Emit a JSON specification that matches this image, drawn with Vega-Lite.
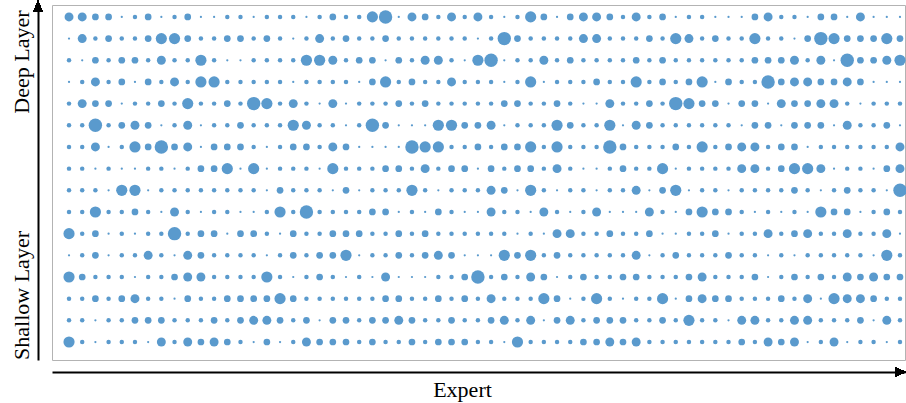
{
"$schema": "https://vega.github.io/schema/vega-lite/v6.json",
"width": 853, "height": 355,
"autosize": {"type": "none"},
"padding": {"left": 52, "top": 5, "right": 1, "bottom": 43},
"config": {"view": {"stroke": "#b3b3b3", "strokeWidth": 1}, "font": "Liberation Serif"},
"data": {"values": [
{"l":16,"e":0,"v":4},{"l":16,"e":1,"v":4},{"l":16,"e":2,"v":3},{"l":16,"e":3,"v":3},{"l":16,"e":4,"v":1},{"l":16,"e":5,"v":2},{"l":16,"e":6,"v":3},{"l":16,"e":7,"v":1},{"l":16,"e":8,"v":2},{"l":16,"e":9,"v":3},{"l":16,"e":10,"v":1},{"l":16,"e":11,"v":1},{"l":16,"e":12,"v":2},{"l":16,"e":13,"v":2},{"l":16,"e":14,"v":1},{"l":16,"e":15,"v":2},{"l":16,"e":16,"v":2},{"l":16,"e":17,"v":2},{"l":16,"e":18,"v":1},{"l":16,"e":19,"v":2},{"l":16,"e":20,"v":3},{"l":16,"e":21,"v":2},
{"l":16,"e":22,"v":2},{"l":16,"e":23,"v":5},{"l":16,"e":24,"v":6},{"l":16,"e":25,"v":1},{"l":16,"e":26,"v":4},{"l":16,"e":27,"v":3},{"l":16,"e":28,"v":2},{"l":16,"e":29,"v":4},{"l":16,"e":30,"v":2},{"l":16,"e":31,"v":4},{"l":16,"e":32,"v":2},{"l":16,"e":33,"v":1},{"l":16,"e":34,"v":2},{"l":16,"e":35,"v":5},{"l":16,"e":36,"v":3},{"l":16,"e":37,"v":1},{"l":16,"e":38,"v":3},{"l":16,"e":39,"v":4},{"l":16,"e":40,"v":4},{"l":16,"e":41,"v":3},{"l":16,"e":42,"v":2},
{"l":16,"e":43,"v":4},{"l":16,"e":44,"v":2},{"l":16,"e":45,"v":3},{"l":16,"e":46,"v":1},{"l":16,"e":47,"v":2},{"l":16,"e":48,"v":2},{"l":16,"e":49,"v":1},{"l":16,"e":50,"v":1},{"l":16,"e":51,"v":1},{"l":16,"e":52,"v":3},{"l":16,"e":53,"v":4},{"l":16,"e":54,"v":2},{"l":16,"e":55,"v":2},{"l":16,"e":56,"v":1},{"l":16,"e":57,"v":3},{"l":16,"e":58,"v":3},{"l":16,"e":59,"v":1},{"l":16,"e":60,"v":4},{"l":16,"e":61,"v":1},{"l":16,"e":62,"v":1},{"l":16,"e":63,"v":1},
{"l":15,"e":0,"v":1},{"l":15,"e":1,"v":4},{"l":15,"e":2,"v":2},{"l":15,"e":3,"v":3},{"l":15,"e":4,"v":2},{"l":15,"e":5,"v":2},{"l":15,"e":6,"v":3},{"l":15,"e":7,"v":5},{"l":15,"e":8,"v":5},{"l":15,"e":9,"v":3},{"l":15,"e":10,"v":2},{"l":15,"e":11,"v":2},{"l":15,"e":12,"v":3},{"l":15,"e":13,"v":3},{"l":15,"e":14,"v":2},{"l":15,"e":15,"v":3},{"l":15,"e":16,"v":2},{"l":15,"e":17,"v":1},{"l":15,"e":18,"v":2},{"l":15,"e":19,"v":4},{"l":15,"e":20,"v":2},{"l":15,"e":21,"v":3},
{"l":15,"e":22,"v":2},{"l":15,"e":23,"v":2},{"l":15,"e":24,"v":3},{"l":15,"e":25,"v":2},{"l":15,"e":26,"v":2},{"l":15,"e":27,"v":2},{"l":15,"e":28,"v":2},{"l":15,"e":29,"v":2},{"l":15,"e":30,"v":2},{"l":15,"e":31,"v":1},{"l":15,"e":32,"v":2},{"l":15,"e":33,"v":6},{"l":15,"e":34,"v":3},{"l":15,"e":35,"v":2},{"l":15,"e":36,"v":2},{"l":15,"e":37,"v":2},{"l":15,"e":38,"v":2},{"l":15,"e":39,"v":4},{"l":15,"e":40,"v":4},{"l":15,"e":41,"v":2},{"l":15,"e":42,"v":2},
{"l":15,"e":43,"v":2},{"l":15,"e":44,"v":3},{"l":15,"e":45,"v":2},{"l":15,"e":46,"v":5},{"l":15,"e":47,"v":4},{"l":15,"e":48,"v":2},{"l":15,"e":49,"v":3},{"l":15,"e":50,"v":2},{"l":15,"e":51,"v":2},{"l":15,"e":52,"v":5},{"l":15,"e":53,"v":2},{"l":15,"e":54,"v":2},{"l":15,"e":55,"v":1},{"l":15,"e":56,"v":3},{"l":15,"e":57,"v":6},{"l":15,"e":58,"v":5},{"l":15,"e":59,"v":3},{"l":15,"e":60,"v":3},{"l":15,"e":61,"v":3},{"l":15,"e":62,"v":5},{"l":15,"e":63,"v":3},
{"l":14,"e":0,"v":2},{"l":14,"e":1,"v":1},{"l":14,"e":2,"v":3},{"l":14,"e":3,"v":2},{"l":14,"e":4,"v":3},{"l":14,"e":5,"v":3},{"l":14,"e":6,"v":2},{"l":14,"e":7,"v":4},{"l":14,"e":8,"v":2},{"l":14,"e":9,"v":2},{"l":14,"e":10,"v":5},{"l":14,"e":11,"v":2},{"l":14,"e":12,"v":1},{"l":14,"e":13,"v":1},{"l":14,"e":14,"v":2},{"l":14,"e":15,"v":2},{"l":14,"e":16,"v":2},{"l":14,"e":17,"v":2},{"l":14,"e":18,"v":5},{"l":14,"e":19,"v":5},{"l":14,"e":20,"v":4},{"l":14,"e":21,"v":2},
{"l":14,"e":22,"v":3},{"l":14,"e":23,"v":3},{"l":14,"e":24,"v":1},{"l":14,"e":25,"v":3},{"l":14,"e":26,"v":2},{"l":14,"e":27,"v":4},{"l":14,"e":28,"v":4},{"l":14,"e":29,"v":2},{"l":14,"e":30,"v":1},{"l":14,"e":31,"v":5},{"l":14,"e":32,"v":6},{"l":14,"e":33,"v":1},{"l":14,"e":34,"v":2},{"l":14,"e":35,"v":2},{"l":14,"e":36,"v":4},{"l":14,"e":37,"v":2},{"l":14,"e":38,"v":3},{"l":14,"e":39,"v":2},{"l":14,"e":40,"v":2},{"l":14,"e":41,"v":2},{"l":14,"e":42,"v":2},
{"l":14,"e":43,"v":3},{"l":14,"e":44,"v":2},{"l":14,"e":45,"v":3},{"l":14,"e":46,"v":2},{"l":14,"e":47,"v":2},{"l":14,"e":48,"v":2},{"l":14,"e":49,"v":2},{"l":14,"e":50,"v":2},{"l":14,"e":51,"v":2},{"l":14,"e":52,"v":3},{"l":14,"e":53,"v":3},{"l":14,"e":54,"v":3},{"l":14,"e":55,"v":4},{"l":14,"e":56,"v":2},{"l":14,"e":57,"v":4},{"l":14,"e":58,"v":1},{"l":14,"e":59,"v":6},{"l":14,"e":60,"v":3},{"l":14,"e":61,"v":3},{"l":14,"e":62,"v":4},{"l":14,"e":63,"v":5},
{"l":13,"e":0,"v":1},{"l":13,"e":1,"v":2},{"l":13,"e":2,"v":4},{"l":13,"e":3,"v":2},{"l":13,"e":4,"v":3},{"l":13,"e":5,"v":1},{"l":13,"e":6,"v":3},{"l":13,"e":7,"v":2},{"l":13,"e":8,"v":4},{"l":13,"e":9,"v":2},{"l":13,"e":10,"v":5},{"l":13,"e":11,"v":5},{"l":13,"e":12,"v":2},{"l":13,"e":13,"v":2},{"l":13,"e":14,"v":2},{"l":13,"e":15,"v":2},{"l":13,"e":16,"v":2},{"l":13,"e":17,"v":1},{"l":13,"e":18,"v":2},{"l":13,"e":19,"v":2},{"l":13,"e":20,"v":2},{"l":13,"e":21,"v":2},
{"l":13,"e":22,"v":1},{"l":13,"e":23,"v":3},{"l":13,"e":24,"v":5},{"l":13,"e":25,"v":2},{"l":13,"e":26,"v":3},{"l":13,"e":27,"v":2},{"l":13,"e":28,"v":2},{"l":13,"e":29,"v":4},{"l":13,"e":30,"v":2},{"l":13,"e":31,"v":2},{"l":13,"e":32,"v":2},{"l":13,"e":33,"v":1},{"l":13,"e":34,"v":2},{"l":13,"e":35,"v":5},{"l":13,"e":36,"v":1},{"l":13,"e":37,"v":2},{"l":13,"e":38,"v":2},{"l":13,"e":39,"v":2},{"l":13,"e":40,"v":3},{"l":13,"e":41,"v":2},{"l":13,"e":42,"v":2},
{"l":13,"e":43,"v":5},{"l":13,"e":44,"v":2},{"l":13,"e":45,"v":3},{"l":13,"e":46,"v":2},{"l":13,"e":47,"v":3},{"l":13,"e":48,"v":5},{"l":13,"e":49,"v":1},{"l":13,"e":50,"v":3},{"l":13,"e":51,"v":2},{"l":13,"e":52,"v":2},{"l":13,"e":53,"v":6},{"l":13,"e":54,"v":3},{"l":13,"e":55,"v":4},{"l":13,"e":56,"v":4},{"l":13,"e":57,"v":3},{"l":13,"e":58,"v":3},{"l":13,"e":59,"v":4},{"l":13,"e":60,"v":3},{"l":13,"e":61,"v":1},{"l":13,"e":62,"v":1},{"l":13,"e":63,"v":1},
{"l":12,"e":0,"v":2},{"l":12,"e":1,"v":4},{"l":12,"e":2,"v":3},{"l":12,"e":3,"v":3},{"l":12,"e":4,"v":1},{"l":12,"e":5,"v":2},{"l":12,"e":6,"v":2},{"l":12,"e":7,"v":3},{"l":12,"e":8,"v":2},{"l":12,"e":9,"v":5},{"l":12,"e":10,"v":2},{"l":12,"e":11,"v":2},{"l":12,"e":12,"v":3},{"l":12,"e":13,"v":2},{"l":12,"e":14,"v":6},{"l":12,"e":15,"v":5},{"l":12,"e":16,"v":2},{"l":12,"e":17,"v":4},{"l":12,"e":18,"v":2},{"l":12,"e":19,"v":1},{"l":12,"e":20,"v":4},{"l":12,"e":21,"v":1},
{"l":12,"e":22,"v":2},{"l":12,"e":23,"v":2},{"l":12,"e":24,"v":2},{"l":12,"e":25,"v":3},{"l":12,"e":26,"v":2},{"l":12,"e":27,"v":3},{"l":12,"e":28,"v":2},{"l":12,"e":29,"v":2},{"l":12,"e":30,"v":2},{"l":12,"e":31,"v":2},{"l":12,"e":32,"v":2},{"l":12,"e":33,"v":3},{"l":12,"e":34,"v":3},{"l":12,"e":35,"v":2},{"l":12,"e":36,"v":2},{"l":12,"e":37,"v":3},{"l":12,"e":38,"v":2},{"l":12,"e":39,"v":1},{"l":12,"e":40,"v":1},{"l":12,"e":41,"v":4},{"l":12,"e":42,"v":2},
{"l":12,"e":43,"v":2},{"l":12,"e":44,"v":3},{"l":12,"e":45,"v":2},{"l":12,"e":46,"v":6},{"l":12,"e":47,"v":5},{"l":12,"e":48,"v":3},{"l":12,"e":49,"v":3},{"l":12,"e":50,"v":1},{"l":12,"e":51,"v":3},{"l":12,"e":52,"v":3},{"l":12,"e":53,"v":1},{"l":12,"e":54,"v":4},{"l":12,"e":55,"v":3},{"l":12,"e":56,"v":3},{"l":12,"e":57,"v":4},{"l":12,"e":58,"v":4},{"l":12,"e":59,"v":2},{"l":12,"e":60,"v":1},{"l":12,"e":61,"v":2},{"l":12,"e":62,"v":2},{"l":12,"e":63,"v":2},
{"l":11,"e":0,"v":2},{"l":11,"e":1,"v":2},{"l":11,"e":2,"v":6},{"l":11,"e":3,"v":2},{"l":11,"e":4,"v":3},{"l":11,"e":5,"v":4},{"l":11,"e":6,"v":3},{"l":11,"e":7,"v":1},{"l":11,"e":8,"v":2},{"l":11,"e":9,"v":4},{"l":11,"e":10,"v":1},{"l":11,"e":11,"v":2},{"l":11,"e":12,"v":2},{"l":11,"e":13,"v":3},{"l":11,"e":14,"v":2},{"l":11,"e":15,"v":2},{"l":11,"e":16,"v":2},{"l":11,"e":17,"v":5},{"l":11,"e":18,"v":4},{"l":11,"e":19,"v":2},{"l":11,"e":20,"v":2},{"l":11,"e":21,"v":1},
{"l":11,"e":22,"v":2},{"l":11,"e":23,"v":6},{"l":11,"e":24,"v":3},{"l":11,"e":25,"v":1},{"l":11,"e":26,"v":1},{"l":11,"e":27,"v":1},{"l":11,"e":28,"v":5},{"l":11,"e":29,"v":5},{"l":11,"e":30,"v":3},{"l":11,"e":31,"v":3},{"l":11,"e":32,"v":4},{"l":11,"e":33,"v":1},{"l":11,"e":34,"v":2},{"l":11,"e":35,"v":2},{"l":11,"e":36,"v":2},{"l":11,"e":37,"v":5},{"l":11,"e":38,"v":3},{"l":11,"e":39,"v":2},{"l":11,"e":40,"v":2},{"l":11,"e":41,"v":5},{"l":11,"e":42,"v":1},
{"l":11,"e":43,"v":4},{"l":11,"e":44,"v":3},{"l":11,"e":45,"v":2},{"l":11,"e":46,"v":2},{"l":11,"e":47,"v":2},{"l":11,"e":48,"v":2},{"l":11,"e":49,"v":2},{"l":11,"e":50,"v":2},{"l":11,"e":51,"v":1},{"l":11,"e":52,"v":3},{"l":11,"e":53,"v":3},{"l":11,"e":54,"v":1},{"l":11,"e":55,"v":3},{"l":11,"e":56,"v":3},{"l":11,"e":57,"v":3},{"l":11,"e":58,"v":1},{"l":11,"e":59,"v":4},{"l":11,"e":60,"v":2},{"l":11,"e":61,"v":2},{"l":11,"e":62,"v":3},{"l":11,"e":63,"v":1},
{"l":10,"e":0,"v":2},{"l":10,"e":1,"v":2},{"l":10,"e":2,"v":4},{"l":10,"e":3,"v":1},{"l":10,"e":4,"v":2},{"l":10,"e":5,"v":5},{"l":10,"e":6,"v":3},{"l":10,"e":7,"v":6},{"l":10,"e":8,"v":3},{"l":10,"e":9,"v":4},{"l":10,"e":10,"v":1},{"l":10,"e":11,"v":3},{"l":10,"e":12,"v":3},{"l":10,"e":13,"v":3},{"l":10,"e":14,"v":2},{"l":10,"e":15,"v":1},{"l":10,"e":16,"v":2},{"l":10,"e":17,"v":3},{"l":10,"e":18,"v":3},{"l":10,"e":19,"v":2},{"l":10,"e":20,"v":4},{"l":10,"e":21,"v":3},
{"l":10,"e":22,"v":1},{"l":10,"e":23,"v":1},{"l":10,"e":24,"v":1},{"l":10,"e":25,"v":1},{"l":10,"e":26,"v":6},{"l":10,"e":27,"v":5},{"l":10,"e":28,"v":5},{"l":10,"e":29,"v":2},{"l":10,"e":30,"v":2},{"l":10,"e":31,"v":3},{"l":10,"e":32,"v":2},{"l":10,"e":33,"v":3},{"l":10,"e":34,"v":3},{"l":10,"e":35,"v":5},{"l":10,"e":36,"v":2},{"l":10,"e":37,"v":5},{"l":10,"e":38,"v":2},{"l":10,"e":39,"v":2},{"l":10,"e":40,"v":2},{"l":10,"e":41,"v":6},{"l":10,"e":42,"v":3},
{"l":10,"e":43,"v":2},{"l":10,"e":44,"v":2},{"l":10,"e":45,"v":2},{"l":10,"e":46,"v":3},{"l":10,"e":47,"v":2},{"l":10,"e":48,"v":5},{"l":10,"e":49,"v":2},{"l":10,"e":50,"v":3},{"l":10,"e":51,"v":4},{"l":10,"e":52,"v":4},{"l":10,"e":53,"v":2},{"l":10,"e":54,"v":3},{"l":10,"e":55,"v":3},{"l":10,"e":56,"v":1},{"l":10,"e":57,"v":2},{"l":10,"e":58,"v":2},{"l":10,"e":59,"v":2},{"l":10,"e":60,"v":2},{"l":10,"e":61,"v":2},{"l":10,"e":62,"v":2},{"l":10,"e":63,"v":4},
{"l":9,"e":0,"v":2},{"l":9,"e":1,"v":2},{"l":9,"e":2,"v":1},{"l":9,"e":3,"v":2},{"l":9,"e":4,"v":1},{"l":9,"e":5,"v":1},{"l":9,"e":6,"v":2},{"l":9,"e":7,"v":2},{"l":9,"e":8,"v":1},{"l":9,"e":9,"v":2},{"l":9,"e":10,"v":3},{"l":9,"e":11,"v":3},{"l":9,"e":12,"v":5},{"l":9,"e":13,"v":1},{"l":9,"e":14,"v":5},{"l":9,"e":15,"v":1},{"l":9,"e":16,"v":2},{"l":9,"e":17,"v":2},{"l":9,"e":18,"v":2},{"l":9,"e":19,"v":1},{"l":9,"e":20,"v":5},{"l":9,"e":21,"v":2},
{"l":9,"e":22,"v":2},{"l":9,"e":23,"v":2},{"l":9,"e":24,"v":3},{"l":9,"e":25,"v":3},{"l":9,"e":26,"v":2},{"l":9,"e":27,"v":4},{"l":9,"e":28,"v":2},{"l":9,"e":29,"v":3},{"l":9,"e":30,"v":3},{"l":9,"e":31,"v":1},{"l":9,"e":32,"v":3},{"l":9,"e":33,"v":2},{"l":9,"e":34,"v":3},{"l":9,"e":35,"v":3},{"l":9,"e":36,"v":2},{"l":9,"e":37,"v":4},{"l":9,"e":38,"v":2},{"l":9,"e":39,"v":1},{"l":9,"e":40,"v":1},{"l":9,"e":41,"v":2},{"l":9,"e":42,"v":3},
{"l":9,"e":43,"v":2},{"l":9,"e":44,"v":2},{"l":9,"e":45,"v":5},{"l":9,"e":46,"v":1},{"l":9,"e":47,"v":2},{"l":9,"e":48,"v":2},{"l":9,"e":49,"v":2},{"l":9,"e":50,"v":2},{"l":9,"e":51,"v":4},{"l":9,"e":52,"v":4},{"l":9,"e":53,"v":2},{"l":9,"e":54,"v":3},{"l":9,"e":55,"v":5},{"l":9,"e":56,"v":5},{"l":9,"e":57,"v":4},{"l":9,"e":58,"v":1},{"l":9,"e":59,"v":2},{"l":9,"e":60,"v":2},{"l":9,"e":61,"v":1},{"l":9,"e":62,"v":3},{"l":9,"e":63,"v":4},
{"l":8,"e":0,"v":2},{"l":8,"e":1,"v":2},{"l":8,"e":2,"v":2},{"l":8,"e":3,"v":1},{"l":8,"e":4,"v":5},{"l":8,"e":5,"v":5},{"l":8,"e":6,"v":1},{"l":8,"e":7,"v":2},{"l":8,"e":8,"v":2},{"l":8,"e":9,"v":2},{"l":8,"e":10,"v":2},{"l":8,"e":11,"v":2},{"l":8,"e":12,"v":2},{"l":8,"e":13,"v":2},{"l":8,"e":14,"v":2},{"l":8,"e":15,"v":1},{"l":8,"e":16,"v":3},{"l":8,"e":17,"v":2},{"l":8,"e":18,"v":2},{"l":8,"e":19,"v":2},{"l":8,"e":20,"v":1},{"l":8,"e":21,"v":3},
{"l":8,"e":22,"v":1},{"l":8,"e":23,"v":2},{"l":8,"e":24,"v":2},{"l":8,"e":25,"v":2},{"l":8,"e":26,"v":5},{"l":8,"e":27,"v":2},{"l":8,"e":28,"v":1},{"l":8,"e":29,"v":2},{"l":8,"e":30,"v":2},{"l":8,"e":31,"v":2},{"l":8,"e":32,"v":4},{"l":8,"e":33,"v":3},{"l":8,"e":34,"v":1},{"l":8,"e":35,"v":5},{"l":8,"e":36,"v":2},{"l":8,"e":37,"v":1},{"l":8,"e":38,"v":2},{"l":8,"e":39,"v":2},{"l":8,"e":40,"v":1},{"l":8,"e":41,"v":2},{"l":8,"e":42,"v":2},
{"l":8,"e":43,"v":4},{"l":8,"e":44,"v":1},{"l":8,"e":45,"v":3},{"l":8,"e":46,"v":5},{"l":8,"e":47,"v":1},{"l":8,"e":48,"v":2},{"l":8,"e":49,"v":2},{"l":8,"e":50,"v":1},{"l":8,"e":51,"v":2},{"l":8,"e":52,"v":2},{"l":8,"e":53,"v":2},{"l":8,"e":54,"v":2},{"l":8,"e":55,"v":3},{"l":8,"e":56,"v":2},{"l":8,"e":57,"v":1},{"l":8,"e":58,"v":2},{"l":8,"e":59,"v":3},{"l":8,"e":60,"v":2},{"l":8,"e":61,"v":2},{"l":8,"e":62,"v":1},{"l":8,"e":63,"v":6},
{"l":7,"e":0,"v":2},{"l":7,"e":1,"v":2},{"l":7,"e":2,"v":5},{"l":7,"e":3,"v":2},{"l":7,"e":4,"v":2},{"l":7,"e":5,"v":3},{"l":7,"e":6,"v":2},{"l":7,"e":7,"v":1},{"l":7,"e":8,"v":4},{"l":7,"e":9,"v":2},{"l":7,"e":10,"v":1},{"l":7,"e":11,"v":2},{"l":7,"e":12,"v":2},{"l":7,"e":13,"v":1},{"l":7,"e":14,"v":1},{"l":7,"e":15,"v":2},{"l":7,"e":16,"v":5},{"l":7,"e":17,"v":2},{"l":7,"e":18,"v":6},{"l":7,"e":19,"v":2},{"l":7,"e":20,"v":2},{"l":7,"e":21,"v":2},
{"l":7,"e":22,"v":2},{"l":7,"e":23,"v":3},{"l":7,"e":24,"v":3},{"l":7,"e":25,"v":1},{"l":7,"e":26,"v":2},{"l":7,"e":27,"v":1},{"l":7,"e":28,"v":3},{"l":7,"e":29,"v":2},{"l":7,"e":30,"v":1},{"l":7,"e":31,"v":1},{"l":7,"e":32,"v":4},{"l":7,"e":33,"v":2},{"l":7,"e":34,"v":2},{"l":7,"e":35,"v":1},{"l":7,"e":36,"v":4},{"l":7,"e":37,"v":2},{"l":7,"e":38,"v":1},{"l":7,"e":39,"v":2},{"l":7,"e":40,"v":4},{"l":7,"e":41,"v":1},{"l":7,"e":42,"v":1},
{"l":7,"e":43,"v":1},{"l":7,"e":44,"v":4},{"l":7,"e":45,"v":2},{"l":7,"e":46,"v":1},{"l":7,"e":47,"v":3},{"l":7,"e":48,"v":5},{"l":7,"e":49,"v":3},{"l":7,"e":50,"v":3},{"l":7,"e":51,"v":2},{"l":7,"e":52,"v":1},{"l":7,"e":53,"v":2},{"l":7,"e":54,"v":1},{"l":7,"e":55,"v":2},{"l":7,"e":56,"v":1},{"l":7,"e":57,"v":5},{"l":7,"e":58,"v":3},{"l":7,"e":59,"v":3},{"l":7,"e":60,"v":1},{"l":7,"e":61,"v":2},{"l":7,"e":62,"v":3},{"l":7,"e":63,"v":2},
{"l":6,"e":0,"v":5},{"l":6,"e":1,"v":2},{"l":6,"e":2,"v":3},{"l":6,"e":3,"v":1},{"l":6,"e":4,"v":2},{"l":6,"e":5,"v":1},{"l":6,"e":6,"v":2},{"l":6,"e":7,"v":2},{"l":6,"e":8,"v":6},{"l":6,"e":9,"v":2},{"l":6,"e":10,"v":3},{"l":6,"e":11,"v":3},{"l":6,"e":12,"v":1},{"l":6,"e":13,"v":3},{"l":6,"e":14,"v":3},{"l":6,"e":15,"v":2},{"l":6,"e":16,"v":1},{"l":6,"e":17,"v":3},{"l":6,"e":18,"v":2},{"l":6,"e":19,"v":2},{"l":6,"e":20,"v":3},{"l":6,"e":21,"v":3},
{"l":6,"e":22,"v":3},{"l":6,"e":23,"v":2},{"l":6,"e":24,"v":2},{"l":6,"e":25,"v":3},{"l":6,"e":26,"v":2},{"l":6,"e":27,"v":3},{"l":6,"e":28,"v":2},{"l":6,"e":29,"v":2},{"l":6,"e":30,"v":2},{"l":6,"e":31,"v":2},{"l":6,"e":32,"v":2},{"l":6,"e":33,"v":2},{"l":6,"e":34,"v":1},{"l":6,"e":35,"v":2},{"l":6,"e":36,"v":1},{"l":6,"e":37,"v":4},{"l":6,"e":38,"v":4},{"l":6,"e":39,"v":2},{"l":6,"e":40,"v":2},{"l":6,"e":41,"v":3},{"l":6,"e":42,"v":2},
{"l":6,"e":43,"v":2},{"l":6,"e":44,"v":3},{"l":6,"e":45,"v":1},{"l":6,"e":46,"v":1},{"l":6,"e":47,"v":2},{"l":6,"e":48,"v":2},{"l":6,"e":49,"v":3},{"l":6,"e":50,"v":1},{"l":6,"e":51,"v":2},{"l":6,"e":52,"v":2},{"l":6,"e":53,"v":4},{"l":6,"e":54,"v":2},{"l":6,"e":55,"v":3},{"l":6,"e":56,"v":4},{"l":6,"e":57,"v":2},{"l":6,"e":58,"v":2},{"l":6,"e":59,"v":4},{"l":6,"e":60,"v":2},{"l":6,"e":61,"v":2},{"l":6,"e":62,"v":4},{"l":6,"e":63,"v":1},
{"l":5,"e":0,"v":1},{"l":5,"e":1,"v":2},{"l":5,"e":2,"v":3},{"l":5,"e":3,"v":1},{"l":5,"e":4,"v":2},{"l":5,"e":5,"v":2},{"l":5,"e":6,"v":4},{"l":5,"e":7,"v":2},{"l":5,"e":8,"v":1},{"l":5,"e":9,"v":4},{"l":5,"e":10,"v":3},{"l":5,"e":11,"v":2},{"l":5,"e":12,"v":2},{"l":5,"e":13,"v":2},{"l":5,"e":14,"v":2},{"l":5,"e":15,"v":1},{"l":5,"e":16,"v":2},{"l":5,"e":17,"v":3},{"l":5,"e":18,"v":2},{"l":5,"e":19,"v":3},{"l":5,"e":20,"v":3},{"l":5,"e":21,"v":5},
{"l":5,"e":22,"v":1},{"l":5,"e":23,"v":2},{"l":5,"e":24,"v":2},{"l":5,"e":25,"v":3},{"l":5,"e":26,"v":2},{"l":5,"e":27,"v":3},{"l":5,"e":28,"v":4},{"l":5,"e":29,"v":3},{"l":5,"e":30,"v":1},{"l":5,"e":31,"v":1},{"l":5,"e":32,"v":1},{"l":5,"e":33,"v":5},{"l":5,"e":34,"v":3},{"l":5,"e":35,"v":5},{"l":5,"e":36,"v":2},{"l":5,"e":37,"v":3},{"l":5,"e":38,"v":2},{"l":5,"e":39,"v":2},{"l":5,"e":40,"v":2},{"l":5,"e":41,"v":2},{"l":5,"e":42,"v":2},
{"l":5,"e":43,"v":4},{"l":5,"e":44,"v":1},{"l":5,"e":45,"v":2},{"l":5,"e":46,"v":3},{"l":5,"e":47,"v":2},{"l":5,"e":48,"v":2},{"l":5,"e":49,"v":2},{"l":5,"e":50,"v":3},{"l":5,"e":51,"v":2},{"l":5,"e":52,"v":2},{"l":5,"e":53,"v":1},{"l":5,"e":54,"v":2},{"l":5,"e":55,"v":1},{"l":5,"e":56,"v":2},{"l":5,"e":57,"v":2},{"l":5,"e":58,"v":2},{"l":5,"e":59,"v":2},{"l":5,"e":60,"v":2},{"l":5,"e":61,"v":1},{"l":5,"e":62,"v":5},{"l":5,"e":63,"v":2},
{"l":4,"e":0,"v":5},{"l":4,"e":1,"v":3},{"l":4,"e":2,"v":2},{"l":4,"e":3,"v":2},{"l":4,"e":4,"v":2},{"l":4,"e":5,"v":1},{"l":4,"e":6,"v":2},{"l":4,"e":7,"v":2},{"l":4,"e":8,"v":3},{"l":4,"e":9,"v":4},{"l":4,"e":10,"v":4},{"l":4,"e":11,"v":2},{"l":4,"e":12,"v":2},{"l":4,"e":13,"v":2},{"l":4,"e":14,"v":2},{"l":4,"e":15,"v":5},{"l":4,"e":16,"v":2},{"l":4,"e":17,"v":1},{"l":4,"e":18,"v":2},{"l":4,"e":19,"v":3},{"l":4,"e":20,"v":2},{"l":4,"e":21,"v":1},
{"l":4,"e":22,"v":2},{"l":4,"e":23,"v":1},{"l":4,"e":24,"v":4},{"l":4,"e":25,"v":1},{"l":4,"e":26,"v":1},{"l":4,"e":27,"v":1},{"l":4,"e":28,"v":2},{"l":4,"e":29,"v":2},{"l":4,"e":30,"v":3},{"l":4,"e":31,"v":6},{"l":4,"e":32,"v":2},{"l":4,"e":33,"v":3},{"l":4,"e":34,"v":2},{"l":4,"e":35,"v":4},{"l":4,"e":36,"v":3},{"l":4,"e":37,"v":1},{"l":4,"e":38,"v":2},{"l":4,"e":39,"v":3},{"l":4,"e":40,"v":2},{"l":4,"e":41,"v":2},{"l":4,"e":42,"v":3},
{"l":4,"e":43,"v":3},{"l":4,"e":44,"v":2},{"l":4,"e":45,"v":2},{"l":4,"e":46,"v":2},{"l":4,"e":47,"v":3},{"l":4,"e":48,"v":4},{"l":4,"e":49,"v":2},{"l":4,"e":50,"v":2},{"l":4,"e":51,"v":2},{"l":4,"e":52,"v":3},{"l":4,"e":53,"v":1},{"l":4,"e":54,"v":2},{"l":4,"e":55,"v":3},{"l":4,"e":56,"v":2},{"l":4,"e":57,"v":3},{"l":4,"e":58,"v":2},{"l":4,"e":59,"v":4},{"l":4,"e":60,"v":3},{"l":4,"e":61,"v":4},{"l":4,"e":62,"v":3},{"l":4,"e":63,"v":3},
{"l":3,"e":0,"v":2},{"l":3,"e":1,"v":2},{"l":3,"e":2,"v":3},{"l":3,"e":3,"v":2},{"l":3,"e":4,"v":3},{"l":3,"e":5,"v":4},{"l":3,"e":6,"v":2},{"l":3,"e":7,"v":2},{"l":3,"e":8,"v":1},{"l":3,"e":9,"v":3},{"l":3,"e":10,"v":2},{"l":3,"e":11,"v":2},{"l":3,"e":12,"v":3},{"l":3,"e":13,"v":3},{"l":3,"e":14,"v":3},{"l":3,"e":15,"v":3},{"l":3,"e":16,"v":5},{"l":3,"e":17,"v":3},{"l":3,"e":18,"v":2},{"l":3,"e":19,"v":2},{"l":3,"e":20,"v":2},{"l":3,"e":21,"v":2},
{"l":3,"e":22,"v":2},{"l":3,"e":23,"v":2},{"l":3,"e":24,"v":3},{"l":3,"e":25,"v":3},{"l":3,"e":26,"v":2},{"l":3,"e":27,"v":2},{"l":3,"e":28,"v":3},{"l":3,"e":29,"v":2},{"l":3,"e":30,"v":3},{"l":3,"e":31,"v":2},{"l":3,"e":32,"v":4},{"l":3,"e":33,"v":2},{"l":3,"e":34,"v":2},{"l":3,"e":35,"v":2},{"l":3,"e":36,"v":5},{"l":3,"e":37,"v":3},{"l":3,"e":38,"v":1},{"l":3,"e":39,"v":2},{"l":3,"e":40,"v":5},{"l":3,"e":41,"v":2},{"l":3,"e":42,"v":1},
{"l":3,"e":43,"v":2},{"l":3,"e":44,"v":2},{"l":3,"e":45,"v":5},{"l":3,"e":46,"v":1},{"l":3,"e":47,"v":3},{"l":3,"e":48,"v":4},{"l":3,"e":49,"v":3},{"l":3,"e":50,"v":3},{"l":3,"e":51,"v":2},{"l":3,"e":52,"v":2},{"l":3,"e":53,"v":2},{"l":3,"e":54,"v":3},{"l":3,"e":55,"v":2},{"l":3,"e":56,"v":4},{"l":3,"e":57,"v":1},{"l":3,"e":58,"v":5},{"l":3,"e":59,"v":4},{"l":3,"e":60,"v":4},{"l":3,"e":61,"v":3},{"l":3,"e":62,"v":2},{"l":3,"e":63,"v":2},
{"l":2,"e":0,"v":2},{"l":2,"e":1,"v":2},{"l":2,"e":2,"v":1},{"l":2,"e":3,"v":2},{"l":2,"e":4,"v":2},{"l":2,"e":5,"v":3},{"l":2,"e":6,"v":3},{"l":2,"e":7,"v":3},{"l":2,"e":8,"v":2},{"l":2,"e":9,"v":2},{"l":2,"e":10,"v":2},{"l":2,"e":11,"v":3},{"l":2,"e":12,"v":2},{"l":2,"e":13,"v":3},{"l":2,"e":14,"v":4},{"l":2,"e":15,"v":4},{"l":2,"e":16,"v":3},{"l":2,"e":17,"v":2},{"l":2,"e":18,"v":3},{"l":2,"e":19,"v":1},{"l":2,"e":20,"v":3},{"l":2,"e":21,"v":3},
{"l":2,"e":22,"v":2},{"l":2,"e":23,"v":3},{"l":2,"e":24,"v":3},{"l":2,"e":25,"v":4},{"l":2,"e":26,"v":3},{"l":2,"e":27,"v":2},{"l":2,"e":28,"v":2},{"l":2,"e":29,"v":3},{"l":2,"e":30,"v":2},{"l":2,"e":31,"v":2},{"l":2,"e":32,"v":3},{"l":2,"e":33,"v":4},{"l":2,"e":34,"v":2},{"l":2,"e":35,"v":4},{"l":2,"e":36,"v":1},{"l":2,"e":37,"v":3},{"l":2,"e":38,"v":4},{"l":2,"e":39,"v":2},{"l":2,"e":40,"v":3},{"l":2,"e":41,"v":3},{"l":2,"e":42,"v":3},
{"l":2,"e":43,"v":2},{"l":2,"e":44,"v":2},{"l":2,"e":45,"v":3},{"l":2,"e":46,"v":2},{"l":2,"e":47,"v":5},{"l":2,"e":48,"v":2},{"l":2,"e":49,"v":2},{"l":2,"e":50,"v":1},{"l":2,"e":51,"v":4},{"l":2,"e":52,"v":4},{"l":2,"e":53,"v":2},{"l":2,"e":54,"v":2},{"l":2,"e":55,"v":4},{"l":2,"e":56,"v":4},{"l":2,"e":57,"v":2},{"l":2,"e":58,"v":2},{"l":2,"e":59,"v":2},{"l":2,"e":60,"v":3},{"l":2,"e":61,"v":1},{"l":2,"e":62,"v":4},{"l":2,"e":63,"v":2},
{"l":1,"e":0,"v":5},{"l":1,"e":1,"v":2},{"l":1,"e":2,"v":1},{"l":1,"e":3,"v":2},{"l":1,"e":4,"v":2},{"l":1,"e":5,"v":2},{"l":1,"e":6,"v":1},{"l":1,"e":7,"v":4},{"l":1,"e":8,"v":2},{"l":1,"e":9,"v":4},{"l":1,"e":10,"v":3},{"l":1,"e":11,"v":4},{"l":1,"e":12,"v":3},{"l":1,"e":13,"v":2},{"l":1,"e":14,"v":1},{"l":1,"e":15,"v":3},{"l":1,"e":16,"v":1},{"l":1,"e":17,"v":2},{"l":1,"e":18,"v":4},{"l":1,"e":19,"v":3},{"l":1,"e":20,"v":3},{"l":1,"e":21,"v":3},
{"l":1,"e":22,"v":2},{"l":1,"e":23,"v":3},{"l":1,"e":24,"v":2},{"l":1,"e":25,"v":2},{"l":1,"e":26,"v":3},{"l":1,"e":27,"v":2},{"l":1,"e":28,"v":3},{"l":1,"e":29,"v":3},{"l":1,"e":30,"v":3},{"l":1,"e":31,"v":2},{"l":1,"e":32,"v":2},{"l":1,"e":33,"v":1},{"l":1,"e":34,"v":5},{"l":1,"e":35,"v":2},{"l":1,"e":36,"v":2},{"l":1,"e":37,"v":2},{"l":1,"e":38,"v":2},{"l":1,"e":39,"v":3},{"l":1,"e":40,"v":3},{"l":1,"e":41,"v":4},{"l":1,"e":42,"v":3},
{"l":1,"e":43,"v":4},{"l":1,"e":44,"v":2},{"l":1,"e":45,"v":2},{"l":1,"e":46,"v":2},{"l":1,"e":47,"v":2},{"l":1,"e":48,"v":2},{"l":1,"e":49,"v":2},{"l":1,"e":50,"v":2},{"l":1,"e":51,"v":3},{"l":1,"e":52,"v":2},{"l":1,"e":53,"v":4},{"l":1,"e":54,"v":3},{"l":1,"e":55,"v":4},{"l":1,"e":56,"v":1},{"l":1,"e":57,"v":2},{"l":1,"e":58,"v":4},{"l":1,"e":59,"v":1},{"l":1,"e":60,"v":2},{"l":1,"e":61,"v":2},{"l":1,"e":62,"v":1},{"l":1,"e":63,"v":2}
]},
"layer": [
{"mark": {"type": "circle", "color": "#5a9acd", "opacity": 1},
 "encoding": {
  "x": {"field": "e", "type": "quantitative", "scale": {"domain": [-1.29, 63.38], "nice": false, "zero": false},
        "axis": {"title": "Expert", "labels": false, "ticks": false, "tickSize": 0, "grid": false, "domainColor": "black", "domainWidth": 2, "offset": 12,
                 "titleFont": "Liberation Serif", "titleFontSize": 22, "titleFontWeight": "normal", "titleColor": "black",
                 "titleX": 410, "titleY": 24, "titleAlign": "center", "titleBaseline": "alphabetic"}},
  "y": {"field": "l", "type": "quantitative", "scale": {"domain": [0.17, 16.55], "nice": false, "zero": false},
        "axis": {"title": null, "values": [3.17, 13.94], "labelExpr": "datum.value > 8 ? 'Deep Layer' : 'Shallow Layer'",
                 "labelAngle": -90, "labelAlign": "center", "labelBaseline": "alphabetic", "labelPadding": 9.5, "labelOverlap": false,
                 "ticks": false, "tickSize": 0, "grid": false, "domainColor": "black", "domainWidth": 2, "offset": 14,
                 "labelFont": "Liberation Serif", "labelFontSize": 22, "labelColor": "black"}},
  "size": {"field": "v", "type": "quantitative", "scale": {"type": "pow", "exponent": 2, "domain": [0, 6], "range": [0, 180]}, "legend": null}
 }},
{"mark": {"type": "point", "shape": "M0,-1L0.8,1L-0.8,1Z", "filled": true, "color": "black", "size": 121, "opacity": 1},
 "encoding": {"x": {"datum": -2.35, "type": "quantitative"}, "y": {"datum": 16.5, "type": "quantitative"}}},
{"mark": {"type": "point", "shape": "M1,0L-1,0.8L-1,-0.8Z", "filled": true, "color": "black", "size": 121, "opacity": 1},
 "encoding": {"x": {"datum": 63.04, "type": "quantitative"}, "y": {"datum": -0.384, "type": "quantitative"}}}
]
}
